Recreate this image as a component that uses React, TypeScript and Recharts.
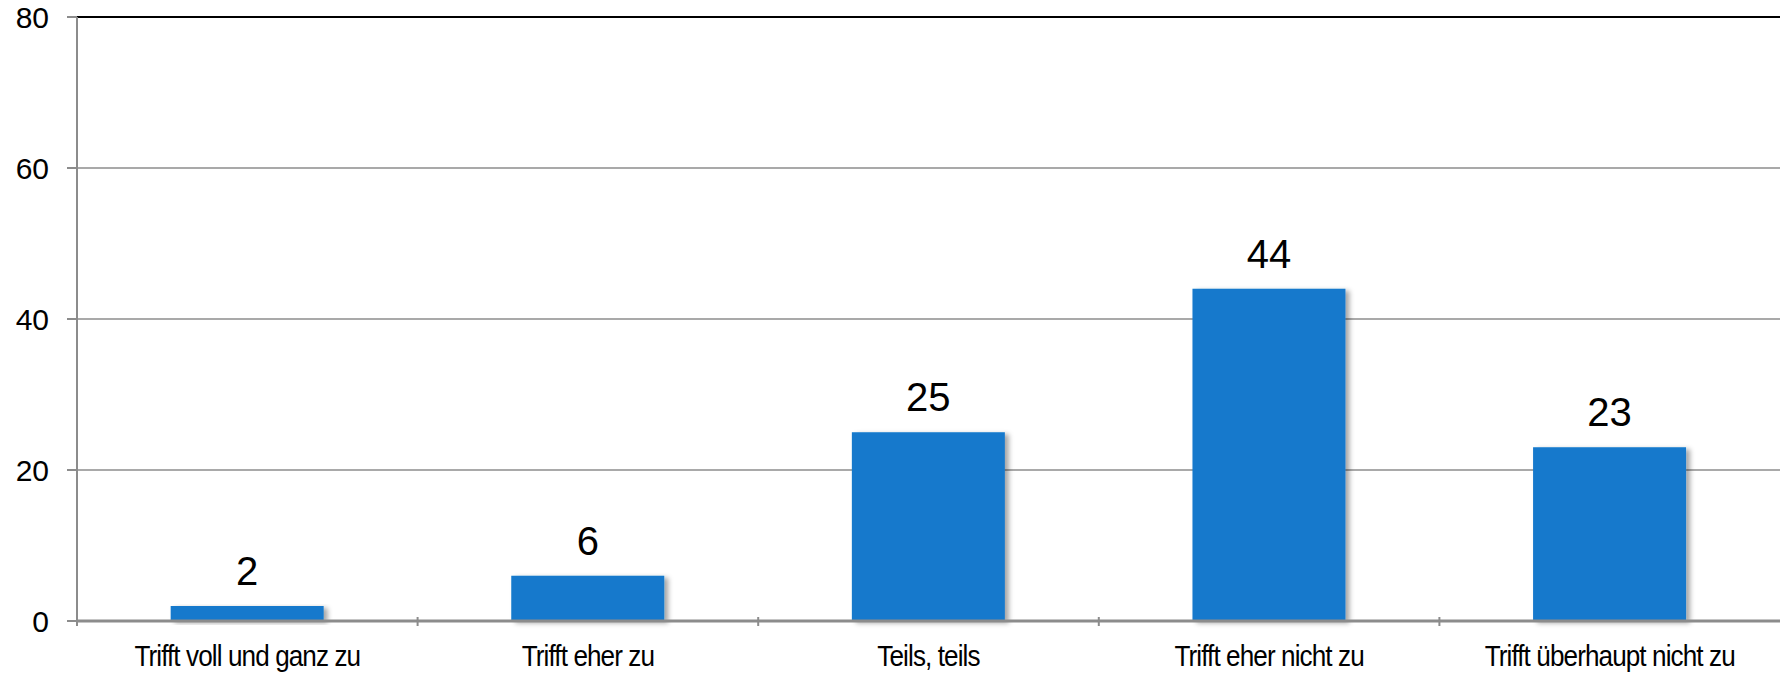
import React from "react";
import {
  BarChart,
  Bar,
  XAxis,
  YAxis,
  CartesianGrid,
  ReferenceLine,
  LabelList,
} from "recharts";

document.body.style.margin = "0";

const categories = [
  "Trifft voll und ganz zu",
  "Trifft eher zu",
  "Teils, teils",
  "Trifft eher nicht zu",
  "Trifft überhaupt nicht zu",
];
const values = [2, 6, 25, 44, 23];
const yTicks = [0, 20, 40, 60, 80];

const data = categories.map((name, i) => ({ name, value: values[i] }));

const W = 1780;
const H = 678;
const LEFT = 77;
const halfBand = (W - LEFT) / categories.length / 2;

// category ticks sit on the band edges, labels are set condensed like the original
function CategoryTick(props: any) {
  const { x, y, payload } = props;
  return (
    <g>
      <line x1={x - halfBand} y1={y - 12} x2={x - halfBand} y2={y - 3} stroke="#8c8c8c" strokeWidth={2} />
      <text
        transform={`translate(${x},${y + 37}) scale(0.9,1)`}
        textAnchor="middle"
        fontFamily="'Liberation Sans', Arial, sans-serif"
        fontSize={29}
        letterSpacing={-1}
        fill="#000"
      >
        {payload.value}
      </text>
    </g>
  );
}

export default function App() {
  return (
    <div style={{ width: W, height: H, background: "#fff" }}>
      <svg width={0} height={0} style={{ position: "absolute" }}>
        <defs>
          <filter id="barShadow" x="-10%" y="-10%" width="130%" height="130%">
            <feDropShadow dx={4} dy={2} stdDeviation={2.5} floodColor="#000" floodOpacity={0.35} />
          </filter>
        </defs>
      </svg>
      <BarChart
        width={W}
        height={H}
        data={data}
        margin={{ top: 17, right: 0, bottom: 0, left: 0 }}
        barCategoryGap="27.5%"
      >
        <CartesianGrid vertical={false} stroke="#8c8c8c" strokeWidth={1.5} />
        <XAxis
          dataKey="name"
          height={57}
          axisLine={{ stroke: "#8c8c8c", strokeWidth: 3 }}
          tickLine={false}
          tick={<CategoryTick />}
          interval={0}
        />
        <YAxis
          width={LEFT}
          domain={[0, 80]}
          ticks={yTicks}
          axisLine={{ stroke: "#8c8c8c", strokeWidth: 2 }}
          tickLine={{ stroke: "#8c8c8c", strokeWidth: 2 }}
          tickSize={10}
          tickMargin={18}
          tick={{ fontFamily: "'Liberation Sans', Arial, sans-serif", fontSize: 30, fill: "#000" }}
        />
        <ReferenceLine y={80} stroke="#000" strokeWidth={2} />
        <Bar dataKey="value" fill="#1479cc" isAnimationActive={false} style={{ filter: "url(#barShadow)" }}>
          <LabelList
            dataKey="value"
            position="top"
            offset={21}
            style={{ fontFamily: "'Liberation Sans', Arial, sans-serif", fontSize: 40, fill: "#000" }}
          />
        </Bar>
      </BarChart>
    </div>
  );
}
